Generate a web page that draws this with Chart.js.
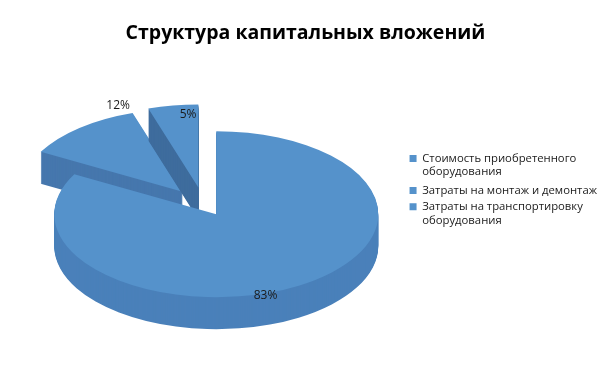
<!DOCTYPE html>
<html><head><meta charset="utf-8">
<script src="https://cdn.jsdelivr.net/npm/chart.js@4/dist/chart.umd.min.js"></script>
<style>html,body{margin:0;padding:0;background:#fff;overflow:hidden}</style>
</head><body>
<canvas id="c" width="609" height="381"></canvas>
<script>
// ---- data ----
const chartTitle = 'Структура капитальных вложений';
const categories = [
  ['Стоимость приобретенного', 'оборудования'],
  'Затраты на монтаж и демонтаж',
  ['Затраты на транспортировку', 'оборудования']
];
const shares = [83, 12, 5];
const valueLabels = ['83%', '12%', '5%'];

// ---- style ----
const FONT = '"Open Sans", "Noto Sans", sans-serif';
const TOP_COLOR = '#5592cb';
const SIDE_COLORS = ['#4a80ba', '#4677ad', '#3e6c9d'];
const RX = 162, RY = 83, DEPTH = 32;      // ellipse radii / thickness in px
const EXPLODE = [0, 0.34, 0.34];          // explosion as a fraction of radius
const EXPLODE_TURN = [0, 2, -10];         // explosion direction tweak, degrees
const SHIFT = {x: 12, y: -9};
const LABEL_POS = [[0.545, 1.03], [0.93, 1.11], [0.77, 0.88]]; // [angle fraction, radius fraction]

function geom(chart) {
  const arcs = chart.getDatasetMeta(0).data;
  const R = arcs[0].outerRadius;
  return {arcs, R, sx: RX / R, sy: RY / R, cx: arcs[0].x + SHIFT.x, cy: arcs[0].y + SHIFT.y};
}
function explodeVec(arc, i, R) {
  const dir = (arc.startAngle + arc.endAngle) / 2 + EXPLODE_TURN[i] * Math.PI / 180;
  return [Math.cos(dir) * EXPLODE[i] * R, Math.sin(dir) * EXPLODE[i] * R];
}

const pie3d = {
  id: 'pie3d',
  beforeDatasetsDraw(chart) {
    const ctx = chart.ctx;
    const g = geom(chart);
    const drawArc = (i, dy, color) => {
      const arc = g.arcs[i];
      const [ex, ey] = explodeVec(arc, i, g.R);
      const el = Object.create(arc);
      el.options = Object.assign({}, arc.options, {backgroundColor: color, borderWidth: 0, offset: 0});
      ctx.save();
      ctx.translate(g.cx, g.cy + dy);
      ctx.scale(g.sx, g.sy);
      ctx.translate(ex - arc.x, ey - arc.y);
      el.draw(ctx);
      ctx.restore();
    };
    [1, 2, 0].forEach(i => {
      for (let d = DEPTH; d > 0; d--) drawArc(i, d, SIDE_COLORS[i]);
      drawArc(i, 0, TOP_COLOR);
    });
    return false;
  },
  afterDraw(chart) {
    const ctx = chart.ctx;
    const g = geom(chart);
    ctx.save();
    ctx.font = '12px ' + FONT;
    ctx.fillStyle = '#1a1a1a';
    ctx.textAlign = 'center';
    ctx.textBaseline = 'middle';
    g.arcs.forEach((arc, i) => {
      const [ex, ey] = explodeVec(arc, i, g.R);
      const th = arc.startAngle + LABEL_POS[i][0] * (arc.endAngle - arc.startAngle);
      const px = ex + Math.cos(th) * LABEL_POS[i][1] * g.R;
      const py = ey + Math.sin(th) * LABEL_POS[i][1] * g.R;
      ctx.fillText(valueLabels[i], g.cx + px * g.sx, g.cy + py * g.sy);
    });
    ctx.restore();
  }
};

new Chart(document.getElementById('c'), {
  type: 'pie',
  data: {
    labels: categories,
    datasets: [{
      data: shares,
      backgroundColor: TOP_COLOR,
      borderWidth: 0
    }]
  },
  options: {
    responsive: false,
    animation: false,
    events: [],
    layout: {padding: {left: 4, right: 2, top: 0, bottom: 0}},
    plugins: {
      title: {
        display: true, text: chartTitle, color: '#000',
        font: {family: FONT, size: 19.5, weight: 'bold'},
        padding: {top: 22, bottom: 20}
      },
      legend: {
        position: 'right',
        labels: {boxWidth: 7, boxHeight: 7, color: '#1a1a1a', font: {family: FONT, size: 11.3}, padding: 5}
      },
      tooltip: {enabled: false}
    }
  },
  plugins: [pie3d]
});
</script>
</body></html>
